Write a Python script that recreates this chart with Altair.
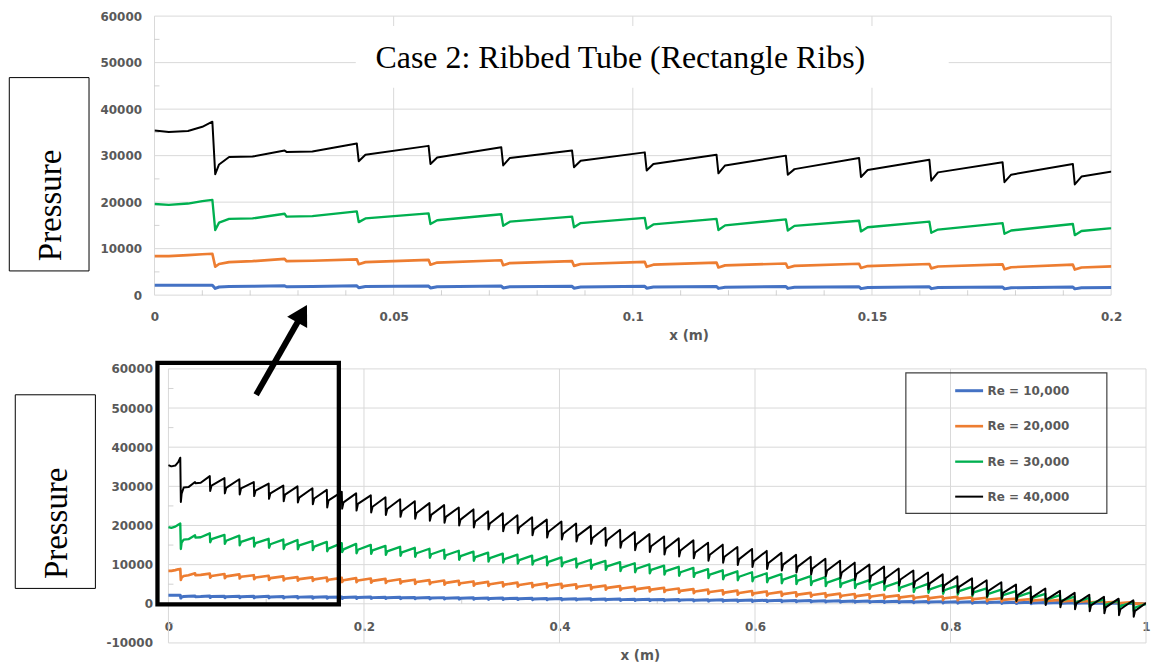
import altair as alt
import pandas as pd

# ---------------- data ----------------
SERIES = ["Re = 10,000", "Re = 20,000", "Re = 30,000", "Re = 40,000"]
COLORS = ["#4472C4", "#ED7D31", "#00B050", "#000000"]
WIDTHS = [3, 2, 2, 2.5]

# entrance section (x in m)
HEAD_X = [0, 0.003, 0.007, 0.010, 0.0121, 0.0127, 0.0135, 0.0156, 0.0205, 0.0272, 0.0276, 0.033]
HEAD_BLUE = [2150, 2150, 2150, 2150, 2150, 1450, 1750, 1850, 1900, 2000, 1800, 1850]
HEAD_ORANGE = [8400, 8400, 8600, 8800, 8900, 6100, 6700, 7100, 7300, 7800, 7300, 7400]
HEAD_GREEN = [19600, 19400, 19700, 20200, 20500, 14000, 15600, 16400, 16500, 17500, 16900, 17000]
HEAD_BLACK = [35400, 35100, 35300, 36200, 37300, 26000, 28100, 29700, 29800, 31100, 30800, 30900]

# rib positions (x in m) where pressure drops
RIBS = [0.0423, 0.0573, 0.0725, 0.0873, 0.1025, 0.1175, 0.132, 0.1473, 0.162, 0.1773, 0.192,
        0.207, 0.222, 0.237, 0.252, 0.267, 0.282, 0.297, 0.312, 0.327, 0.342, 0.357, 0.372, 0.387, 0.402,
        0.417, 0.432, 0.447, 0.462, 0.477, 0.492, 0.507, 0.522, 0.537, 0.552, 0.567, 0.582, 0.597,
        0.612, 0.627, 0.642, 0.657, 0.672, 0.687, 0.702, 0.717, 0.732, 0.747, 0.762, 0.777, 0.792, 0.807,
        0.822, 0.837, 0.852, 0.867, 0.882, 0.897, 0.912, 0.927, 0.942, 0.957, 0.972, 0.987]

PEAK_BLACK = [32600, 32100, 31800, 31100, 30700, 30200, 30000, 29500, 29100, 28600, 28200,
              27700, 27200, 26700, 26200, 25700, 25200, 24600, 24100, 23600, 23100, 22600, 22100, 21500, 21000,
              20500, 19900, 19400, 18900, 18300, 17800, 17200, 16700, 16200, 15600, 15100, 14500, 14000,
              13500, 13000, 12500, 12000, 11500, 11000, 10500, 10000, 9500, 9000, 8500, 8000, 7500, 7000,
              6500, 6000, 5500, 4900, 4400, 3900, 3300, 2800, 2300, 1800, 1300, 900]
TROUGH_BLACK = [28800, 28200, 27900, 27500, 26800, 26200, 25900, 25400, 24600, 24300, 23800,
                23300, 22700, 22200, 21700, 21200, 20700, 20000, 19500, 19000, 18500, 18000, 17500, 16900, 16400,
                15900, 15300, 14800, 14300, 13700, 13200, 12600, 12100, 11600, 11000, 10500, 9900, 9400,
                8900, 8500, 8000, 7500, 7000, 6500, 6100, 5600, 5100, 4700, 4200, 3700, 3200, 2800,
                2300, 1800, 1300, 700, 200, -300, -900, -1400, -1900, -2400, -2900, -3300]
RECOV_BLACK = [30200, 29600, 29500, 28900, 28200, 27900, 27100, 26900, 26400, 25900, 25500,
               24800, 24200, 23700, 23200, 22700, 22200, 21500, 21000, 20500, 20000, 19500, 19000, 18400, 17900,
               17400, 16800, 16300, 15800, 15200, 14700, 14100, 13600, 13100, 12500, 12000, 11400, 10900,
               10400, 10000, 9500, 9000, 8500, 8000, 7600, 7100, 6600, 6200, 5700, 5200, 4700, 4300,
               3800, 3300, 2800, 2200, 1700, 1200, 600, 100, -400, -900, -1400, -1800]

PEAK_GREEN = [18000, 17600, 17400, 16900, 16600, 16400, 16300, 16000, 15800, 15500, 15300,
              15050, 14800, 14550, 14300, 14050, 13800, 13550, 13300, 13050, 12800, 12550, 12300, 12100, 11850,
              11550, 11250, 10950, 10650, 10350, 10050, 9750, 9450, 9150, 8850, 8550, 8300, 8050,
              7800, 7550, 7300, 7050, 6800, 6550, 6300, 6050, 5800, 5550, 5300, 5100, 4850, 4650,
              4300, 3950, 3600, 3250, 2900, 2550, 2200, 1850, 1500, 1150, 800, 450]
TROUGH_GREEN = [15700, 15300, 14900, 14600, 14300, 14000, 13900, 13700, 13400, 13200, 12900,
                12750, 12500, 12250, 12000, 11750, 11500, 11250, 11000, 10750, 10500, 10250, 10000, 9800, 9550,
                9250, 8950, 8650, 8350, 8050, 7750, 7450, 7150, 6850, 6550, 6250, 6000, 5750,
                5500, 5250, 5000, 4750, 4500, 4250, 4000, 3750, 3500, 3250, 3000, 2800, 2550, 2350,
                2000, 1650, 1300, 950, 600, 250, -100, -450, -800, -1150, -1500, -1850]
RECOV_GREEN = [16500, 16100, 15800, 15500, 15200, 15000, 14900, 14600, 14100, 13900, 13800,
               13650, 13400, 13150, 12900, 12650, 12400, 12150, 11900, 11650, 11400, 11150, 10900, 10700, 10450,
               10150, 9850, 9550, 9250, 8950, 8650, 8350, 8050, 7750, 7450, 7150, 6900, 6650,
               6400, 6150, 5900, 5650, 5400, 5150, 4900, 4650, 4400, 4150, 3900, 3700, 3450, 3250,
               2900, 2550, 2200, 1850, 1500, 1150, 800, 450, 100, -250, -600, -950]

PEAK_ORANGE = [7700, 7600, 7500, 7300, 7150, 7000, 6800, 6750, 6700, 6600, 6550,
               6450, 6350, 6250, 6150, 6050, 5950, 5850, 5700, 5600, 5500, 5400, 5300, 5200, 5100,
               4950, 4800, 4650, 4500, 4350, 4200, 4050, 3900, 3750, 3600, 3450, 3350, 3250,
               3150, 3050, 2950, 2800, 2700, 2600, 2500, 2400, 2300, 2150, 2050, 1950, 1850, 1750,
               1650, 1550, 1400, 1300, 1200, 1100, 1000, 850, 750, 650, 550, 450]
TROUGH_ORANGE = [6650, 6550, 6450, 6300, 6100, 5950, 5900, 5850, 5750, 5550, 5500,
                 5400, 5300, 5200, 5100, 5000, 4900, 4800, 4650, 4550, 4450, 4350, 4250, 4150, 4050,
                 3900, 3750, 3600, 3450, 3300, 3150, 3000, 2850, 2700, 2550, 2400, 2300, 2200,
                 2100, 2000, 1900, 1800, 1700, 1600, 1500, 1400, 1300, 1200, 1100, 1000, 950, 900,
                 800, 700, 600, 500, 400, 300, 200, 100, 0, -100, -200, -300]
RECOV_ORANGE = [7100, 7000, 6900, 6700, 6550, 6400, 6300, 6250, 6150, 6000, 5950,
                5850, 5750, 5650, 5550, 5450, 5350, 5250, 5100, 5000, 4900, 4800, 4700, 4600, 4500,
                4350, 4200, 4050, 3900, 3750, 3600, 3450, 3300, 3150, 3000, 2850, 2750, 2650,
                2550, 2450, 2350, 2250, 2150, 2050, 1950, 1850, 1750, 1650, 1550, 1450, 1400, 1300,
                1200, 1100, 1000, 900, 800, 700, 600, 500, 400, 300, 200, 100]

PEAK_BLUE = [2000, 1950, 1950, 1900, 1900, 1850, 1850, 1800, 1800, 1750, 1750,
             1720, 1690, 1660, 1630, 1600, 1570, 1540, 1510, 1480, 1450, 1420, 1390, 1360, 1330,
             1300, 1270, 1240, 1210, 1180, 1150, 1120, 1090, 1060, 1030, 1000, 970, 940,
             910, 880, 850, 820, 790, 760, 730, 700, 670, 640, 610, 580, 550, 520,
             490, 460, 430, 400, 370, 340, 310, 280, 250, 220, 190, 160]
TROUGH_BLUE = [1600, 1550, 1550, 1500, 1500, 1450, 1450, 1400, 1400, 1350, 1350,
               1370, 1340, 1310, 1280, 1250, 1220, 1190, 1160, 1130, 1100, 1070, 1040, 1010, 980,
               950, 920, 890, 860, 830, 800, 770, 740, 710, 680, 650, 620, 590,
               560, 530, 500, 470, 440, 410, 380, 350, 320, 290, 260, 230, 200, 170,
               140, 110, 80, 50, 20, -10, -40, -70, -100, -130, -160, -190]
RECOV_BLUE = [1850, 1800, 1800, 1750, 1750, 1700, 1700, 1650, 1650, 1600, 1600,
              1570, 1540, 1510, 1480, 1450, 1420, 1390, 1360, 1330, 1300, 1270, 1240, 1210, 1180,
              1150, 1120, 1090, 1060, 1030, 1000, 970, 940, 910, 880, 850, 820, 790,
              760, 730, 700, 670, 640, 610, 580, 550, 520, 490, 460, 430, 400, 370,
              340, 310, 280, 250, 220, 190, 160, 130, 100, 70, 40, 10]

END_X = 1.0
END_VALUES = [0, 0, 0, 200]

# axis tick values
XT_TICKS = [0, 0.05, 0.1, 0.15, 0.2]
YT_TICKS = [0, 10000, 20000, 30000, 40000, 50000, 60000]
XT_MINOR = [0.01, 0.02, 0.03, 0.04, 0.06, 0.07, 0.08, 0.09, 0.11, 0.12, 0.13, 0.14, 0.16, 0.17, 0.18, 0.19]
YT_MINOR = [5000, 15000, 25000, 35000, 45000, 55000]
XB_TICKS = [0, 0.2, 0.4, 0.6, 0.8, 1]
YB_TICKS = [-10000, 0, 10000, 20000, 30000, 40000, 50000, 60000]
XB_MINOR = [0.1, 0.3, 0.5, 0.7, 0.9]
YB_MINOR = [-5000, 5000, 15000, 25000, 35000, 45000, 55000]

TITLE = "Case 2: Ribbed Tube (Rectangle Ribs)"
YLABEL = "Pressure"
XLABEL = "x (m)"

# ---------------- build table ----------------
heads = [HEAD_BLUE, HEAD_ORANGE, HEAD_GREEN, HEAD_BLACK]
peaks = [PEAK_BLUE, PEAK_ORANGE, PEAK_GREEN, PEAK_BLACK]
troughs = [TROUGH_BLUE, TROUGH_ORANGE, TROUGH_GREEN, TROUGH_BLACK]
recovs = [RECOV_BLUE, RECOV_ORANGE, RECOV_GREEN, RECOV_BLACK]
rows = []
for i, s in enumerate(SERIES):
    for x, v in zip(HEAD_X, heads[i]):
        rows.append((s, i, x, v))
    for r, p, t, c in zip(RIBS, peaks[i], troughs[i], recovs[i]):
        rows.append((s, i, r, p))
        rows.append((s, i, r + 0.0004, t))
        rows.append((s, i, r + 0.0018, c))
    rows.append((s, i, END_X, END_VALUES[i]))
df = pd.DataFrame(rows, columns=["s", "k", "x", "p"])
one = pd.DataFrame({"a": [0]})

GRID = "#d9d9d9"
TICK = "#bfbfbf"
GRAY = "#595959"
FONT = "DejaVu Sans"
SERIF = "Liberation Serif"

CS = alt.Scale(domain=SERIES, range=COLORS)
SW = alt.Scale(domain=SERIES, range=WIDTHS)


def xaxis(values, pad, offset, title_x, title_y):
    kw = dict(values=values, labelExpr="datum.value + ''", grid=False, domain=False, ticks=False,
              tickSize=0, labelPadding=pad, labelFlush=False, labelOverlap=False, labelBound=False,
              labelFont=FONT, labelFontSize=12, labelFontWeight="bold", labelColor=GRAY,
              title=XLABEL, titleFont=FONT, titleFontSize=13.5, titleFontWeight="bold",
              titleColor=GRAY, titleX=title_x, titleY=title_y, titleAlign="center",
              titleBaseline="alphabetic")
    if offset:
        kw["offset"] = offset
    return alt.Axis(**kw)


def yaxis(values, pad):
    return alt.Axis(values=values, labelExpr="datum.value + ''", grid=False, domain=False, ticks=False,
                    tickSize=0, labelPadding=pad, labelOverlap=False, labelFont=FONT, labelFontSize=12,
                    labelFontWeight="bold", labelColor=GRAY, title=None)


def panel(xs, ys, ax, ay, xticks, yticks, xminor, yminor, x0, x1, y0, y1, legend):
    vgrid = alt.Chart(pd.DataFrame({"x": xticks})).mark_rule(color=GRID, strokeWidth=1).encode(
        x=alt.X("x:Q", scale=xs, axis=ax),
        y=alt.YDatum(y0, scale=ys, axis=ay), y2=alt.Y2Datum(y1))
    hgrid = alt.Chart(pd.DataFrame({"y": yticks})).mark_rule(color=GRID, strokeWidth=1).encode(
        y=alt.Y("y:Q", scale=ys, axis=ay),
        x=alt.XDatum(x0, scale=xs, axis=ax), x2=alt.X2Datum(x1))
    xm = alt.Chart(pd.DataFrame({"x": xminor})).mark_tick(
        orient="vertical", size=5, thickness=1, color=TICK, yOffset=-2.5).encode(
        x=alt.X("x:Q", scale=xs, axis=ax), y=alt.YDatum(0, scale=ys, axis=ay))
    ym = alt.Chart(pd.DataFrame({"y": yminor})).mark_tick(
        orient="horizontal", size=5, thickness=1, color=TICK, xOffset=2.5).encode(
        y=alt.Y("y:Q", scale=ys, axis=ay), x=alt.XDatum(x0, scale=xs, axis=ax))
    lines = alt.Chart(df).mark_line(clip=True, strokeJoin="round").encode(
        x=alt.X("x:Q", scale=xs, axis=ax),
        y=alt.Y("p:Q", scale=ys, axis=ay),
        color=alt.Color("s:N", scale=CS, legend=legend),
        strokeWidth=alt.StrokeWidth("s:N", scale=SW, legend=None),
        order=alt.Order("x:Q"))
    return vgrid, hgrid, xm, ym, lines


def box(x1, x2, y1, y2, width, color="black"):
    return alt.Chart(one).mark_rect(fill="transparent", stroke=color, strokeWidth=width).encode(
        x=alt.value(x1), x2=alt.value(x2), y=alt.value(y1), y2=alt.value(y2))


def vtext(x, y):
    return alt.Chart(one).mark_text(text=YLABEL, angle=270, font=SERIF, fontSize=33, align="center",
                                    baseline="alphabetic", color="black").encode(
        x=alt.value(x), y=alt.value(y))


# ---------------- top panel ----------------
XS_T = alt.Scale(domain=[0, 0.2], nice=False, zero=False)
YS_T = alt.Scale(domain=[0, 60000], nice=False, zero=False)
AX_T = xaxis(XT_TICKS, 16.5, 0, 536, 45)
AY_T = yaxis(YT_TICKS, 13)
tv, th, txm, tym, tlines = panel(XS_T, YS_T, AX_T, AY_T, XT_TICKS, YT_TICKS, XT_MINOR, YT_MINOR,
                                 0, 0.2, 0, 60000, None)
title_bg = alt.Chart(one).mark_rect(color="white").encode(
    x=alt.value(202), x2=alt.value(797), y=alt.value(10), y2=alt.value(72))
title_txt = alt.Chart(one).mark_text(text=TITLE, font=SERIF, fontSize=32, align="center",
                                     baseline="alphabetic", color="black").encode(
    x=alt.value(467.5), y=alt.value(51.7))
anchor = alt.Chart(one).mark_rect(opacity=0).encode(
    x=alt.value(-147), x2=alt.value(-146), y=alt.value(-7), y2=alt.value(-6))

top = alt.layer(tv, th, txm, tym, title_bg, title_txt, tlines,
                box(-145.7, -65.7, 61.7, 255.7, 1), vtext(-94, 190), anchor).properties(
    width=960, height=280)

# ---------------- bottom panel ----------------
XS_B = alt.Scale(domain=[-0.014271, 1], nice=False, zero=False)
YS_B = alt.Scale(domain=[-10000, 60000], nice=False, zero=False)
AX_B = xaxis(XB_TICKS, 17.5, -39.3, 487, 56)
AY_B = yaxis(YB_TICKS, 2)
LEG = alt.Legend(orient="none", legendX=802, legendY=6.4, title=None, symbolType="stroke",
                 symbolSize=784, symbolStrokeWidth=2, labelFont=FONT, labelFontSize=12,
                 labelFontWeight="bold", labelColor=GRAY, labelOffset=3, rowPadding=13.6, padding=0)
bv, bh, bxm, bym, blines = panel(XS_B, YS_B, AX_B, AY_B, XB_TICKS, YB_TICKS, XB_MINOR, YB_MINOR,
                                 0, 1, -10000, 60000, LEG)
arrow_shaft = alt.Chart(one).mark_rule(strokeWidth=6, color="black", strokeCap="butt").encode(
    x=alt.value(102), y=alt.value(26), x2=alt.value(146), y2=alt.value(-51))
arrow_head = alt.Chart(one).mark_point(shape="triangle-up", filled=True, size=529, angle=29.5,
                                       color="black", opacity=1).encode(
    x=alt.value(148.1), y=alt.value(-55.4))

bottom = alt.layer(bv, bh, bxm, bym, blines,
                   box(754, 955.7, 4, 145, 1.2, "#404040"),
                   box(3, 185, -6, 236.3, 4.3),
                   arrow_shaft, arrow_head,
                   box(-139.7, -59.3, 26, 220.3, 1), vtext(-88, 155)).properties(
    width=995, height=275)

chart = alt.vconcat(top, bottom, spacing=74, bounds="flush").resolve_scale(
    color="independent", strokeWidth="independent").properties(padding=0).configure_view(
    strokeWidth=0)

chart.save("out.html", embed_options={"renderer": "svg", "actions": False})
